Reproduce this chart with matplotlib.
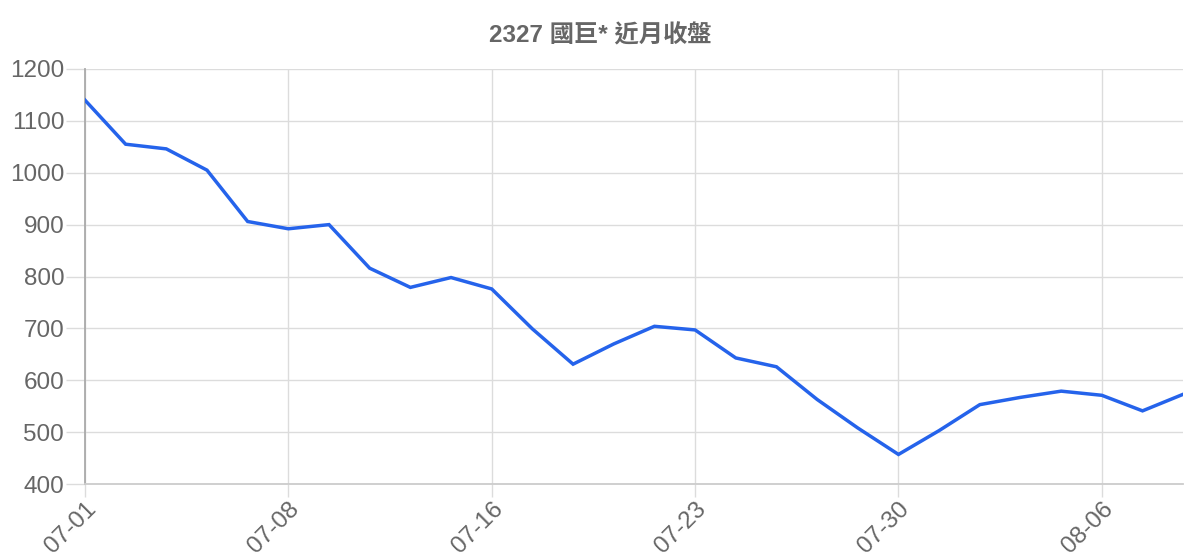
#!/usr/bin/env python3

import matplotlib

matplotlib.use("Agg")
import matplotlib.pyplot as plt

dates = [
    "07-01", "07-02", "07-03", "07-04", "07-05", "07-08", "07-09", "07-10",
    "07-11", "07-12", "07-16", "07-17", "07-18", "07-19", "07-22", "07-23",
    "07-24", "07-25", "07-26", "07-29", "07-30", "07-31", "08-01", "08-02",
    "08-05", "08-06", "08-07", "08-08",
]
closes = [
    1140, 1055, 1046, 1005, 906, 892, 900, 816,
    779, 798, 776, 699, 631, 670, 704, 697,
    643, 626, 563, 508, 457, 503, 553, 567,
    579, 571, 541, 573,
]
title = "2327 國巨* 近月收盤"
yticks = [400, 500, 600, 700, 800, 900, 1000, 1100, 1200]

GREY = "#666666"
GRID = "#dcdcdc"

plt.rcParams["font.family"] = ["Liberation Sans", "Noto Sans CJK TC", "DejaVu Sans"]

fig = plt.figure(figsize=(12, 5.6), dpi=100)
ax = fig.add_axes([0.0708, 0.1357, 0.9152, 0.7411])

x = list(range(len(dates)))
ax.plot(x, closes, color="#2563eb", lw=2.5, solid_joinstyle="miter", zorder=3)

ax.set_xlim(0, len(dates) - 1)
ax.set_ylim(400, 1200)
ax.set_yticks(yticks)
xt = list(range(0, len(dates), 5))
ax.set_xticks(xt)
ax.set_xticklabels([dates[i] for i in xt], rotation=45, ha="right",
                   rotation_mode="anchor")

ax.grid(True, color=GRID, lw=1.0)
ax.set_axisbelow(True)
for side in ["top", "right"]:
    ax.spines[side].set_visible(False)
ax.spines["left"].set_color("#aaaaaa")
ax.spines["left"].set_linewidth(1.3)
ax.spines["bottom"].set_color("#cccccc")
ax.spines["bottom"].set_linewidth(1.3)

ax.tick_params(axis="y", length=14, color=GRID, width=1.0, labelsize=17.5,
               labelcolor=GREY, pad=1)
ax.tick_params(axis="x", length=9, color=GRID, width=1.0, labelsize=17.5,
               labelcolor=GREY, pad=1)

fig.suptitle(title, x=0.5, y=0.957, fontsize=17.5, fontweight="bold", color=GREY)

fig.savefig("out.png", dpi=100)
